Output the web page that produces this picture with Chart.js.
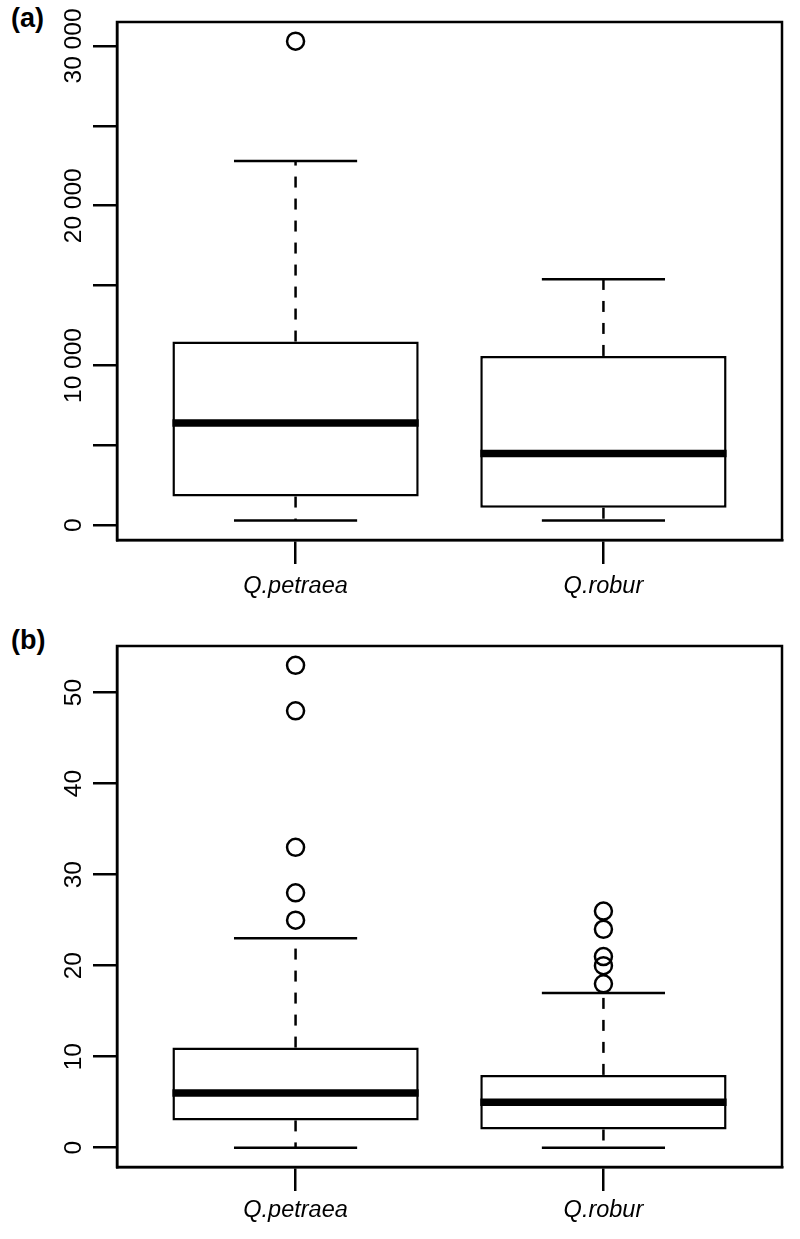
<!DOCTYPE html>
<html>
<head>
<meta charset="utf-8">
<script src="https://cdn.jsdelivr.net/npm/chart.js@4.4.1/dist/chart.umd.min.js"></script>
<style>
  body { margin: 0; background: #fff; width: 800px; height: 1239px; position: relative; overflow: hidden; font-family: "Liberation Sans", Arial, sans-serif; }
  canvas { position: absolute; left: 0; }
  .tag { position: absolute; font-weight: bold; font-size: 27px; color: #000; }
</style>
</head>
<body>
<div class="tag" style="left:11px; top:3px">(a)</div>
<canvas id="chartA" width="800" height="615" style="top:0"></canvas>
<div class="tag" style="left:11px; top:625px">(b)</div>
<canvas id="chartB" width="800" height="624" style="top:615px"></canvas>
<script>
// species on the x axis
const species = ['Q.petraea', 'Q.robur'];

// panel (a): box plot statistics
const lowA = [300, 300];
const q1A = [1800, 1100];
const medA = [6400, 4500];
const q3A = [11500, 10600];
const highA = [22800, 15400];
const outA = [[30300], []];
const ticksA = [0, 5000, 10000, 15000, 20000, 25000, 30000];
const labelsA = [0, 10000, 20000, 30000];

// panel (b): box plot statistics
const lowB = [0, 0];
const q1B = [3, 2];
const medB = [6, 5];
const q3B = [11, 8];
const highB = [23, 17];
const outB = [[25, 28, 33, 48, 53], [18, 20, 21, 24, 26]];
const ticksB = [0, 10, 20, 30, 40, 50];
const labelsB = [0, 10, 20, 30, 40, 50];

// whiskers, medians and the frame round the plot
const boxExtras = {
  id: 'boxExtras',
  afterDatasetsDraw(chart, args, opts) {
    const { ctx, chartArea, scales: { x, y } } = chart;
    const s = opts.stats;
    ctx.save();
    ctx.strokeStyle = '#000';
    ctx.lineCap = 'butt';
    const seg = (x1, y1, x2, y2) => {
      ctx.beginPath();
      ctx.moveTo(x1, y1);
      ctx.lineTo(x2, y2);
      ctx.stroke();
    };
    s.low.forEach((lo, i) => {
      const c = i + 1;
      const cx = x.getPixelForValue(c);
      ctx.lineWidth = 2.5;
      ctx.setLineDash([11, 11]);
      seg(cx, y.getPixelForValue(s.q3[i]), cx, y.getPixelForValue(s.high[i]));
      seg(cx, y.getPixelForValue(s.q1[i]), cx, y.getPixelForValue(lo));
      ctx.setLineDash([]);
      seg(x.getPixelForValue(c - 0.2), y.getPixelForValue(s.high[i]), x.getPixelForValue(c + 0.2), y.getPixelForValue(s.high[i]));
      seg(x.getPixelForValue(c - 0.2), y.getPixelForValue(lo), x.getPixelForValue(c + 0.2), y.getPixelForValue(lo));
      ctx.lineWidth = 7.5;
      seg(x.getPixelForValue(c - 0.4), y.getPixelForValue(s.med[i]), x.getPixelForValue(c + 0.4), y.getPixelForValue(s.med[i]));
    });
    ctx.lineWidth = 2.5;
    ctx.strokeRect(chartArea.left, chartArea.top, chartArea.right - chartArea.left, chartArea.bottom - chartArea.top);
    ctx.restore();
  }
};

function fmt(v) {
  return String(v).replace(/\B(?=(\d{3})+(?!\d))/g, ' ');
}

function makeChart(id, stats, outliers, yMin, yMax, tickVals, labelled, padTop, bottomH, labelPad, xPad) {
  const outPts = [];
  outliers.forEach((list, i) => list.forEach(v => outPts.push({ x: i + 1, y: v })));
  new Chart(document.getElementById(id), {
    type: 'bar',
    data: {
      datasets: [{
        data: species.map((_, i) => ({ x: i + 1, y: [stats.q1[i], stats.q3[i]] })),
        backgroundColor: '#fff',
        borderColor: '#000',
        borderWidth: 2.5,
        borderSkipped: false,
        barPercentage: 0.8,
        categoryPercentage: 1
      }, {
        type: 'scatter',
        data: outPts,
        pointRadius: 8.5,
        pointBorderWidth: 2.5,
        pointBackgroundColor: 'rgba(0,0,0,0)',
        pointBorderColor: '#000',
        showLine: false
      }]
    },
    options: {
      responsive: false,
      animation: false,
      devicePixelRatio: 1,
      layout: { padding: { top: padTop, right: 18, left: 0, bottom: 0 } },
      plugins: {
        legend: { display: false },
        tooltip: { enabled: false },
        boxExtras: { stats: stats }
      },
      scales: {
        x: {
          type: 'linear',
          min: 0.42,
          max: 2.58,
          offset: false,
          afterBuildTicks: scale => { scale.ticks = species.map((_, i) => ({ value: i + 1 })); },
          afterFit: scale => { scale.height = bottomH; },
          grid: { offset: false, drawOnChartArea: false, drawTicks: true, tickLength: 24, color: '#000', lineWidth: 2.5 },
          border: { display: true, color: '#000', width: 2.5 },
          ticks: {
            padding: xPad,
            color: '#000',
            font: { family: 'Liberation Sans', size: 23.5, style: 'italic' },
            callback: v => species[v - 1] || ''
          }
        },
        y: {
          min: yMin,
          max: yMax,
          afterBuildTicks: scale => { scale.ticks = tickVals.map(v => ({ value: v })); },
          afterFit: scale => { scale.width = 117; },
          grid: { drawOnChartArea: false, drawTicks: true, tickLength: 24, color: '#000', lineWidth: 2.5 },
          border: { display: true, color: '#000', width: 2.5 },
          ticks: {
            minRotation: 90,
            maxRotation: 90,
            crossAlign: 'center',
            padding: labelPad,
            color: '#000',
            font: { family: 'Liberation Sans', size: 24.5 },
            callback: v => labelled.includes(v) ? fmt(v) : ''
          }
        }
      }
    },
    plugins: [boxExtras]
  });
}

makeChart('chartA',
  { low: lowA, q1: q1A, med: medA, q3: q3A, high: highA },
  outA, -920, 31500, ticksA, labelsA, 22, 75, -18.5, 8);

makeChart('chartB',
  { low: lowB, q1: q1B, med: medB, q3: q3B, high: highB },
  outB, -2.12, 55.12, ticksB, labelsB, 31, 72, 5.5, 5);
</script>
</body>
</html>
